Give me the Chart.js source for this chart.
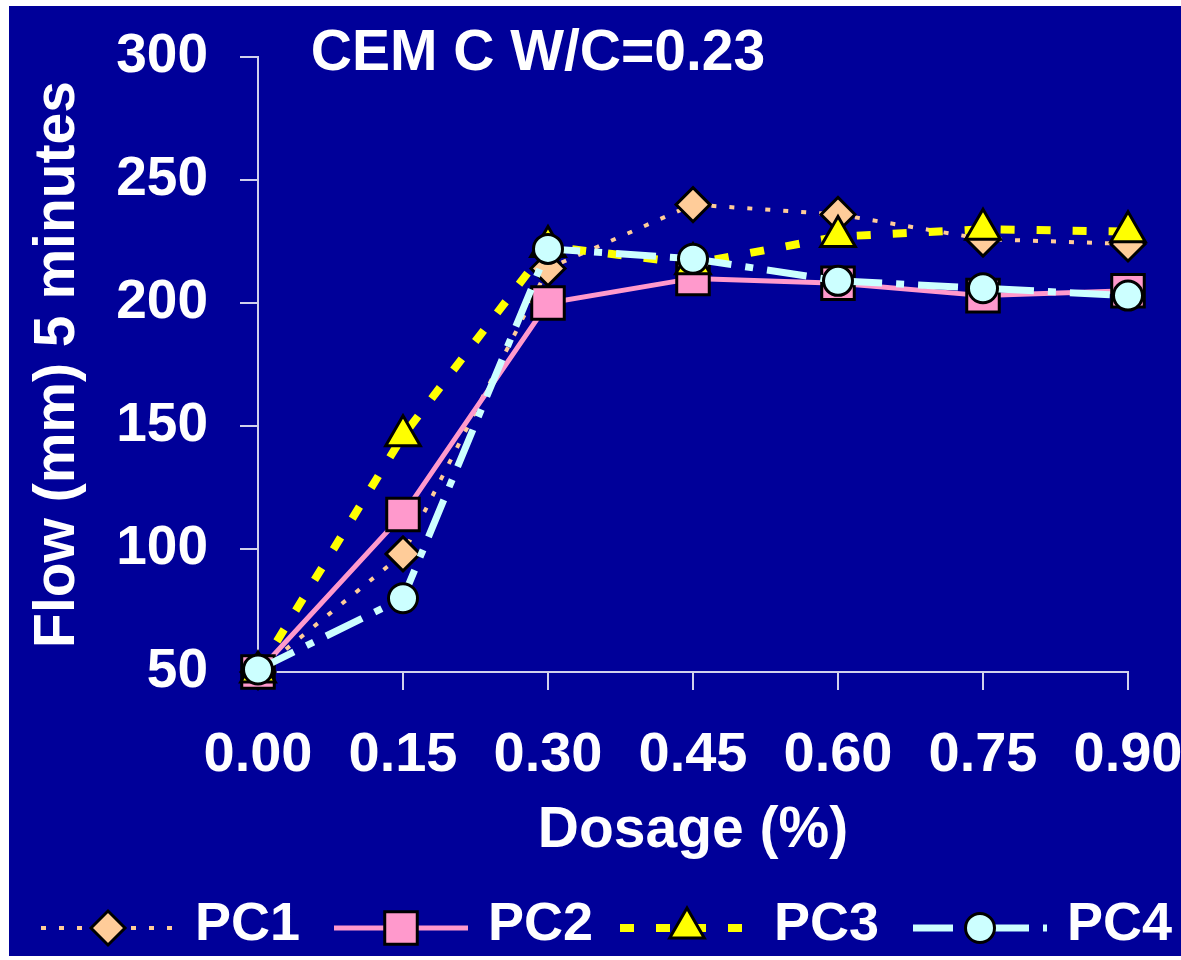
<!doctype html>
<html>
<head>
  <title>CEM C W/C=0.23</title>
  <script src="https://cdn.jsdelivr.net/npm/chart.js@4.4.1/dist/chart.umd.min.js"></script>
  <style>
    body { margin: 0; background: #fff; }
    canvas { display: block; }
  </style>
</head>
<body>
  <canvas id="myChart" width="1181" height="960"></canvas>
  <script>
    var dosages = ['0.00', '0.15', '0.30', '0.45', '0.60', '0.75', '0.90'];
    var pc1 = [50, 98, 214, 240, 236, 226, 224];
    var pc2 = [50, 114, 200, 210, 208, 203, 205];
    var pc3 = [50, 146, 223, 216, 227, 230, 229];
    var pc4 = [51, 80, 222, 218, 209, 206, 203];

    var FONT = "'Liberation Sans', Arial, sans-serif";
    var BLUE = '#000099';
    var AXIS = '#D0D0EC';

    // blue panel with a thin white strip on the top and left edges
    var background = {
      id: 'background',
      beforeDraw: function(chart) {
        var ctx = chart.ctx;
        ctx.save();
        ctx.fillStyle = '#fff';
        ctx.fillRect(0, 0, chart.width, chart.height);
        ctx.fillStyle = BLUE;
        ctx.fillRect(9, 6, chart.width - 9, chart.height - 10);
        ctx.restore();
      }
    };

    function marker(ctx, ds, x, y) {
      ctx.save();
      ctx.fillStyle = ds.pointBackgroundColor;
      ctx.strokeStyle = ds.pointBorderColor;
      ctx.lineWidth = ds.pointBorderWidth;
      ctx.setLineDash([]);
      Chart.helpers.drawPoint(ctx, {
        pointStyle: ds.pointStyle,
        radius: ds.pointRadius,
        borderWidth: ds.pointBorderWidth,
        rotation: 0
      }, x, y);
      ctx.restore();
    }

    // in-plot caption and the line+marker legend at the bottom
    var annotations = {
      id: 'annotations',
      afterDraw: function(chart) {
        var ctx = chart.ctx;
        ctx.save();
        ctx.fillStyle = '#fff';
        ctx.font = 'bold 57px ' + FONT;
        ctx.textAlign = 'center';
        ctx.textBaseline = 'middle';
        ctx.fillText('CEM C W/C=0.23', 538, 54);

        var starts = [41, 334, 620, 913];
        var lineLen = 134;
        var y = 928;
        chart.data.datasets.forEach(function(ds, i) {
          var x0 = starts[i];
          ctx.save();
          ctx.strokeStyle = ds.borderColor;
          ctx.lineWidth = ds.borderWidth;
          ctx.setLineDash(ds.borderDash || []);
          ctx.beginPath();
          ctx.moveTo(x0, y);
          ctx.lineTo(x0 + lineLen, y);
          ctx.stroke();
          ctx.restore();
          marker(ctx, ds, x0 + lineLen / 2, y);
          ctx.fillStyle = '#fff';
          ctx.font = 'bold 54px ' + FONT;
          ctx.textAlign = 'left';
          ctx.textBaseline = 'middle';
          ctx.fillText(ds.label, x0 + lineLen + 20, y - 3);
        });
        ctx.restore();
      }
    };

    function series(label, data, color, width, dash, style, radius, order) {
      return {
        label: label,
        data: data,
        borderColor: color,
        borderWidth: width,
        borderDash: dash,
        pointStyle: style,
        pointRadius: radius,
        pointHoverRadius: radius,
        pointBackgroundColor: color,
        pointBorderColor: '#000',
        pointBorderWidth: 3,
        tension: 0,
        fill: false,
        clip: false,
        order: order
      };
    }

    var config = {
      type: 'line',
      data: {
        labels: dosages,
        datasets: [
          series('PC1', pc1, '#FFCC99', 4, [5, 13], 'rectRot', 17, 4),
          series('PC2', pc2, '#FF99CC', 5, [], 'rect', 23, 3),
          series('PC3', pc3, '#FFFF00', 8, [14, 22], 'triangle', 20, 2),
          series('PC4', pc4, '#CCFFFF', 7, [40, 14, 8, 14], 'circle', 14.5, 1)
        ]
      },
      options: {
        responsive: false,
        animation: false,
        layout: {
          padding: { left: 9, top: 57, right: 53, bottom: 90 }
        },
        scales: {
          x: {
            type: 'category',
            offset: false,
            afterFit: function(scale) {
              scale.height = 198;
              scale.paddingLeft = 0;
              scale.paddingRight = 0;
            },
            grid: { drawOnChartArea: false, drawTicks: true, tickLength: 18, color: AXIS, lineWidth: 2 },
            border: { color: AXIS, width: 2 },
            ticks: {
              color: '#fff',
              padding: 32,
              maxRotation: 0,
              autoSkip: false,
              font: { family: FONT, size: 56, weight: 'bold' }
            },
            title: {
              display: true,
              text: 'Dosage (%)',
              color: '#fff',
              padding: { top: 0, bottom: 5 },
              font: { family: FONT, size: 57, weight: 'bold' }
            }
          },
          y: {
            min: 50,
            max: 300,
            afterFit: function(scale) {
              scale.width = 249;
              scale.paddingTop = 0;
              scale.paddingBottom = 0;
            },
            grid: { drawOnChartArea: false, drawTicks: true, tickLength: 18, color: AXIS, lineWidth: 2 },
            border: { color: AXIS, width: 2 },
            ticks: {
              stepSize: 50,
              color: '#fff',
              padding: 32,
              font: { family: FONT, size: 55, weight: 'bold' }
            },
            title: {
              display: true,
              text: 'Flow (mm) 5 minutes',
              color: '#fff',
              padding: { top: 15, bottom: 0 },
              font: { family: FONT, size: 57, weight: 'bold' }
            }
          }
        },
        plugins: {
          legend: { display: false },
          tooltip: { enabled: false }
        }
      },
      plugins: [background, annotations]
    };

    window.onload = function() {
      var ctx = document.getElementById('myChart').getContext('2d');
      window.myChart = new Chart(ctx, config);
    };
  </script>
</body>
</html>
